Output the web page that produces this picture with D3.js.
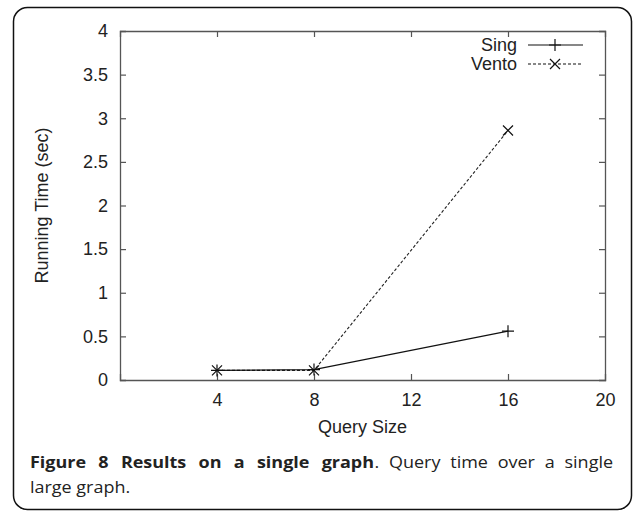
<!DOCTYPE html>
<html><head><meta charset="utf-8">
<script src="https://cdn.jsdelivr.net/npm/d3@7/dist/d3.min.js"></script>
<style>body{margin:0;background:#fff}svg{display:block}</style>
</head><body>
<svg id="c" width="635" height="512"></svg>
<script>
const querySizes = [4, 8, 16];
const singTimes = [0.11, 0.12, 0.56];
const ventoTimes = [0.11, 0.11, 2.86];
const xTicks = [4, 8, 12, 16, 20];
const yTicks = [0, 0.5, 1, 1.5, 2, 2.5, 3, 3.5, 4];
const seriesNames = ["Sing", "Vento"];

const svg = d3.select("#c");
const L = 120, R = 605, T = 31, B = 380;
const x = d3.scaleLinear().domain([0, 20]).range([L, R]);
const y = d3.scaleLinear().domain([0, 4]).range([B, T]);
const font = "'Liberation Sans', Arial, sans-serif";
const fs = 18;

svg.append("rect").attr("x", 13.5).attr("y", 7.5).attr("width", 618).attr("height", 502)
  .attr("rx", 14).attr("fill", "#fff").attr("stroke", "#111").attr("stroke-width", 1.5);

const frameColor = "#555";
const ax = d3.axisBottom(x).tickValues(xTicks).tickSize(-6).tickPadding(13).tickFormat(d3.format("d"));
const gx = svg.append("g").attr("transform", `translate(0,${B})`).call(ax);
const axT = d3.axisTop(x).tickValues(xTicks).tickSize(-6).tickFormat("");
const gxt = svg.append("g").attr("transform", `translate(0,${T})`).call(axT);
const ay = d3.axisLeft(y).tickValues(yTicks).tickSize(-6).tickPadding(12).tickFormat(d => String(d));
const gy = svg.append("g").attr("transform", `translate(${L},0)`).call(ay);
const ayR = d3.axisRight(y).tickValues(yTicks).tickSize(-6).tickFormat("");
const gyr = svg.append("g").attr("transform", `translate(${R},0)`).call(ayR);
[gx, gxt, gy, gyr].forEach(g => {
  g.select(".domain").attr("stroke", frameColor).attr("stroke-width", 1.3);
  g.selectAll(".tick line").attr("stroke", frameColor).attr("stroke-width", 1.2);
  g.selectAll("text").attr("font-family", font).attr("font-size", fs).attr("fill", "#222");
});
gx.selectAll(".tick").filter(d => d === 20).select("line").remove();
gxt.selectAll(".tick").filter(d => d === 20).select("line").remove();
gy.selectAll(".tick").filter(d => d === 0 || d === 4).select("line").remove();
gyr.selectAll(".tick").filter(d => d === 0 || d === 4).select("line").remove();

svg.append("text").attr("x", x(10)).attr("y", 433).attr("text-anchor", "middle")
  .attr("font-family", font).attr("font-size", fs).attr("fill", "#222").text("Query Size");
svg.append("text").attr("transform", `translate(48,${(T + B) / 2}) rotate(-90)`)
  .attr("text-anchor", "middle").attr("font-family", font).attr("font-size", fs).attr("fill", "#222")
  .text("Running Time (sec)");

const line = d3.line().x(d => x(d[0])).y(d => y(d[1]));
const singData = querySizes.map((q, i) => [q, singTimes[i]]);
const ventoData = querySizes.map((q, i) => [q, ventoTimes[i]]);

function plus(g, cx, cy) {
  const s = 6;
  g.append("path").attr("d", `M${cx - s},${cy}H${cx + s}M${cx},${cy - s}V${cy + s}`)
    .attr("stroke", "#111").attr("stroke-width", 1.2).attr("fill", "none");
}
function cross(g, cx, cy) {
  const s = 5;
  g.append("path").attr("d", `M${cx - s},${cy - s}L${cx + s},${cy + s}M${cx - s},${cy + s}L${cx + s},${cy - s}`)
    .attr("stroke", "#111").attr("stroke-width", 1.2).attr("fill", "none");
}

const gp = svg.append("g");
gp.append("path").datum(ventoData).attr("d", line).attr("fill", "none")
  .attr("stroke", "#222").attr("stroke-width", 1.1).attr("stroke-dasharray", "3,2");
gp.append("path").datum(singData).attr("d", line).attr("fill", "none")
  .attr("stroke", "#111").attr("stroke-width", 1.2);
singData.forEach(d => plus(gp, x(d[0]), y(d[1])));
ventoData.forEach(d => cross(gp, x(d[0]), y(d[1])));

const lg = svg.append("g");
const legY = [45, 64];
seriesNames.forEach((n, i) => {
  lg.append("text").attr("x", 517).attr("y", legY[i] + 6).attr("text-anchor", "end")
    .attr("font-family", font).attr("font-size", fs).attr("fill", "#222").text(n);
  lg.append("line").attr("x1", 528).attr("x2", 583).attr("y1", legY[i]).attr("y2", legY[i])
    .attr("stroke", "#111").attr("stroke-width", 1.2).attr("stroke-dasharray", i ? "3,2" : null);
  if (i === 0) plus(lg, 555, legY[i]); else cross(lg, 555, legY[i]);
});

// caption, justified, slightly wide lettering
const capFont = "'Open Sans', 'Noto Sans', sans-serif";
const capFs = 15.5;
const sx = 1.16;
function capText(txt, x0, yb, bold, x1) {
  const t = svg.append("text").attr("transform", `translate(${x0},${yb}) scale(${sx},1)`)
    .attr("font-family", capFont).attr("font-size", capFs)
    .attr("font-weight", bold ? "bold" : "normal").attr("fill", "#222").text(txt);
  if (x1 != null) {
    const w = t.node().getComputedTextLength();
    const n = (txt.match(/ /g) || []).length;
    if (n) t.attr("word-spacing", ((x1 - x0) / sx - w) / n);
  }
  return t;
}
capText("Figure 8 Results on a single graph", 30, 468, true, 374);
capText(". Query time over a single", 374.5, 468, false, 613);
capText("large graph.", 30, 493, false, null);
</script>
</body></html>
